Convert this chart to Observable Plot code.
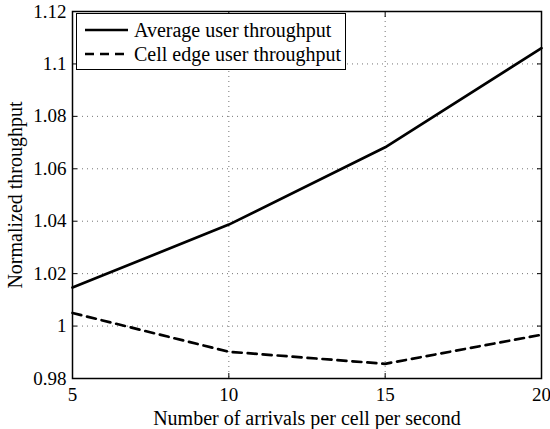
<!DOCTYPE html>
<html>
<head>
<meta charset="utf-8">
<script src="https://cdn.jsdelivr.net/npm/d3@7"></script>
<script src="https://cdn.jsdelivr.net/npm/@observablehq/plot@0.6"></script>
<style>
  html, body { margin: 0; padding: 0; background: #fff; }
  #wrap { position: relative; width: 550px; height: 429px; font-family: "Liberation Serif", "Times New Roman", serif; }
  #wrap svg text { font-family: "Liberation Serif", "Times New Roman", serif; }
  #legend { position: absolute; left: 76px; top: 13px; width: 268px; height: 55px; border: 1.4px solid #000; background: #fff; box-sizing: content-box; }
  .row { position: absolute; left: 8px; height: 24px; display: flex; align-items: center; font-size: 20px; color: #000; white-space: nowrap; }
  .row svg { margin-right: 5px; }
</style>
</head>
<body>
<div id="wrap"></div>
<script>
const xValues = [5, 10, 15, 20];
const averageUser = [1.0147, 1.0387, 1.0682, 1.1060];
const cellEdgeUser = [1.0050, 0.9902, 0.9856, 0.9967];
const seriesNames = ["Average user throughput", "Cell edge user throughput"];
const xTicks = [5, 10, 15, 20];
const yTicks = [0.98, 1.0, 1.02, 1.04, 1.06, 1.08, 1.1, 1.12];
const yTickLabels = ["0.98", "1", "1.02", "1.04", "1.06", "1.08", "1.1", "1.12"];
const xLabel = "Number of arrivals per cell per second";
const yLabel = "Normalized throughput";

const avgData = xValues.map((x, i) => ({x, y: averageUser[i]}));
const edgeData = xValues.map((x, i) => ({x, y: cellEdgeUser[i]}));
const noText = () => "";
const serif = "'Liberation Serif', 'Times New Roman', serif";

const chart = Plot.plot({
  width: 550,
  height: 429,
  marginLeft: 72,
  marginRight: 9,
  marginTop: 11,
  marginBottom: 51,
  style: { fontFamily: serif, fontSize: "19px", color: "#000", background: "#fff" },
  x: { domain: [5, 20] },
  y: { domain: [0.98, 1.12] },
  marks: [
    Plot.gridX(xTicks, { stroke: "#000", strokeOpacity: 0.55, strokeDasharray: "1,4", strokeWidth: 1 }),
    Plot.gridY(yTicks, { stroke: "#000", strokeOpacity: 0.55, strokeDasharray: "1,4", strokeWidth: 1 }),
    Plot.axisX(xTicks, { anchor: "bottom", tickSize: 0, tickPadding: 9, label: null, fontSize: 19 }),
    Plot.axisY(yTicks, { anchor: "left", tickSize: 0, tickPadding: 6, label: null, fontSize: 19,
      tickFormat: d => yTickLabels[yTicks.indexOf(d)] }),
    Plot.axisX(xTicks, { anchor: "bottom", tickSize: -5, tickFormat: noText, label: null }),
    Plot.axisX(xTicks, { anchor: "top", tickSize: -5, tickFormat: noText, label: null }),
    Plot.axisY(yTicks, { anchor: "left", tickSize: -5, tickFormat: noText, label: null }),
    Plot.axisY(yTicks, { anchor: "right", tickSize: -5, tickFormat: noText, label: null }),
    Plot.line(avgData, { x: "x", y: "y", stroke: "#000", strokeWidth: 2.7 }),
    Plot.line(edgeData, { x: "x", y: "y", stroke: "#000", strokeWidth: 2.7, strokeDasharray: "9,6" }),
    Plot.frame({ stroke: "#000", strokeWidth: 1.5 }),
    Plot.text([xLabel], { text: d => d, frameAnchor: "bottom", dy: 40, lineAnchor: "middle", textAnchor: "middle", fontSize: 20 }),
    Plot.text([yLabel], { text: d => d, frameAnchor: "left", dx: -57, rotate: -90, lineAnchor: "middle", textAnchor: "middle", fontSize: 20 })
  ]
});

const wrap = document.getElementById("wrap");
wrap.appendChild(chart);

const legend = document.createElement("div");
legend.id = "legend";
const dashes = [null, "9,6"];
seriesNames.forEach((name, i) => {
  const row = document.createElement("div");
  row.className = "row";
  row.style.top = (4 + i * 24) + "px";
  const svg = d3.create("svg").attr("width", 44).attr("height", 10);
  svg.append("line").attr("x1", 0).attr("x2", 43).attr("y1", 5).attr("y2", 5)
    .attr("stroke", "#000").attr("stroke-width", 2.7)
    .attr("stroke-dasharray", dashes[i]);
  row.appendChild(svg.node());
  const span = document.createElement("span");
  span.textContent = name;
  row.appendChild(span);
  legend.appendChild(row);
});
wrap.appendChild(legend);
</script>
</body>
</html>
